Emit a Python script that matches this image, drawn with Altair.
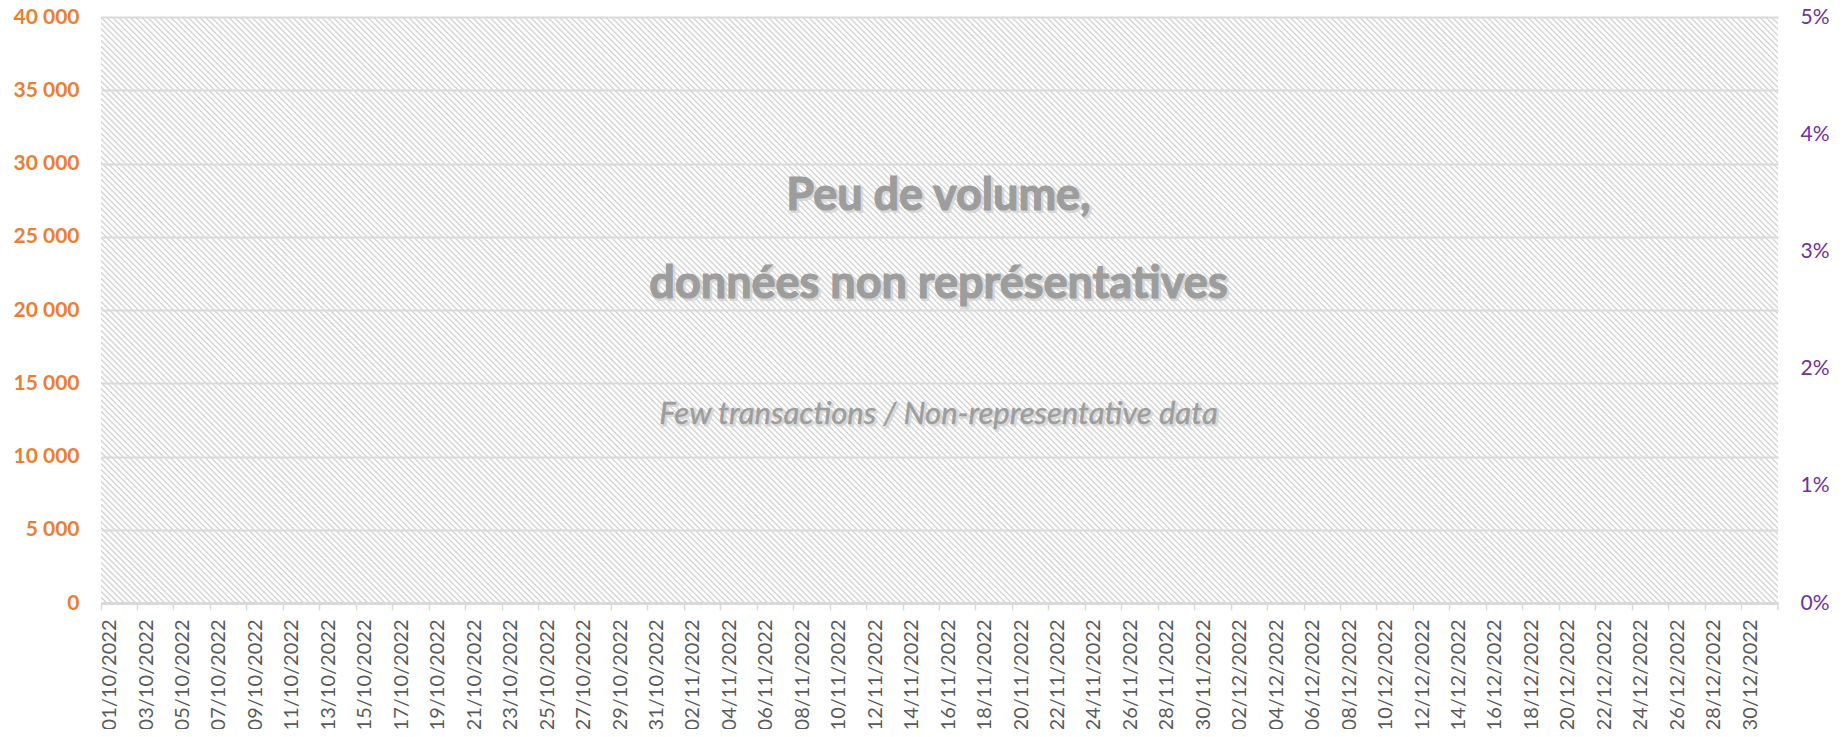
import altair as alt
import pandas as pd

# ---- data (chart is empty: too few transactions) ----
dates = [d.strftime("%d/%m/%Y") for d in pd.date_range("2022-10-01", "2022-12-31", freq="D")]
tick_labels = dates[::2]  # 01/10/2022, 03/10/2022, ... 30/12/2022
volume = [None] * len(dates)
share = [None] * len(dates)
y_left_ticks = [0, 5000, 10000, 15000, 20000, 25000, 30000, 35000, 40000]
y_right_ticks = [0, 0.01, 0.02, 0.03, 0.04, 0.05]
title_lines = ["Peu de volume,", "données non représentatives"]
subtitle = "Few transactions / Non-representative data"

W, H = 1677, 586
FONT = "Lato"

df = pd.DataFrame({"date": dates, "volume": volume, "share": share})
one = pd.DataFrame({"k": [0]})

# ---- hatch background: decorative diagonal lines, clipped to the plot ----
period = 5.8
n = int((W + H) / period) + 2
starts = [-H + i * period for i in range(n)]
hatch_df = pd.DataFrame({"hx": starts, "hx2": [s + H for s in starts],
                         "hy": [0] * n, "hy2": [H] * n})

hatch = alt.Chart(hatch_df).mark_rule(color="#d4d4d4", strokeWidth=1.4, clip=True).encode(
    x=alt.X("hx:Q", scale=None, axis=None),
    x2="hx2:Q",
    y=alt.Y("hy:Q", scale=None, axis=None),
    y2="hy2:Q",
)

x_enc = alt.X(
    "date:O",
    scale=alt.Scale(domain=dates, paddingInner=0, paddingOuter=0),
    axis=alt.Axis(
        values=tick_labels, title=None, labelAngle=-90, labelFont=FONT, labelFontSize=20,
        labelColor="#595959", labelPadding=9, labelOverlap=False, labelBound=False,
        tickColor="#d9d9d9", tickWidth=1.5, tickSize=7, bandPosition=0,
        domainColor="#d9d9d9", domainWidth=3, grid=False, zindex=1,
    ),
)

bars = alt.Chart(df).mark_bar(color="#ED7D31").encode(
    x=x_enc,
    y=alt.Y(
        "volume:Q",
        scale=alt.Scale(domain=[0, 40000], nice=False),
        axis=alt.Axis(
            orient="left", values=y_left_ticks, title=None,
            labelExpr="replace(format(datum.value, ','), ',', ' ')",
            labelColor="#ED7D31", labelFont=FONT, labelFontWeight="bold", labelFontSize=21,
            labelPadding=22, ticks=False, domain=False, grid=True,
            gridColor="#d9d9d9", gridWidth=2, zindex=1,
        ),
    ),
)

line = alt.Chart(df).mark_line(color="#7030A0").encode(
    x=x_enc,
    y=alt.Y(
        "share:Q",
        scale=alt.Scale(domain=[0, 0.05], nice=False),
        axis=alt.Axis(
            orient="right", values=y_right_ticks, format=".0%", title=None,
            labelColor="#7030A0", labelFont=FONT, labelFontSize=21, labelPadding=22,
            ticks=False, domain=False, grid=False,
        ),
    ),
)

end_tick = alt.Chart(one).mark_rule(color="#d9d9d9", strokeWidth=1.5).encode(
    x=alt.value(W), y=alt.value(H), y2=alt.value(H + 7)
)

def label(text, x, y, size, italic=False, bold=True):
    src = pd.DataFrame({"t": [text]})
    common = dict(font=FONT, fontSize=size, fontWeight="bold" if bold else "normal",
                  fontStyle="italic" if italic else "normal", align="center",
                  baseline="alphabetic")
    sw = 1.2 if bold else 0.4
    shadow = alt.Chart(src).mark_text(color="#d2d2d2", stroke="#d2d2d2", strokeWidth=sw + 1,
                                      opacity=0.8, dx=2, dy=2, **common).encode(
        text="t:N", x=alt.value(x), y=alt.value(y))
    main = alt.Chart(src).mark_text(color="#9d9d9d", stroke="#9d9d9d", strokeWidth=sw,
                                    **common).encode(
        text="t:N", x=alt.value(x), y=alt.value(y))
    return [shadow, main]

cx = W / 2 - 1
texts = (label(title_lines[0], cx, 193, 45)
         + label(title_lines[1], cx, 281, 45)
         + label(subtitle, cx, 407, 31, italic=True, bold=False))

chart = alt.layer(hatch, bars, line, end_tick, *texts).resolve_scale(
    y="independent"
).properties(
    width=W, height=H,
    autosize=alt.AutoSizeParams(type="none"),
    padding={"left": 93, "top": 9, "right": 60, "bottom": 126},
).configure_view(stroke=None)

chart.save("out.html", embed_options={"renderer": "svg", "actions": False})
